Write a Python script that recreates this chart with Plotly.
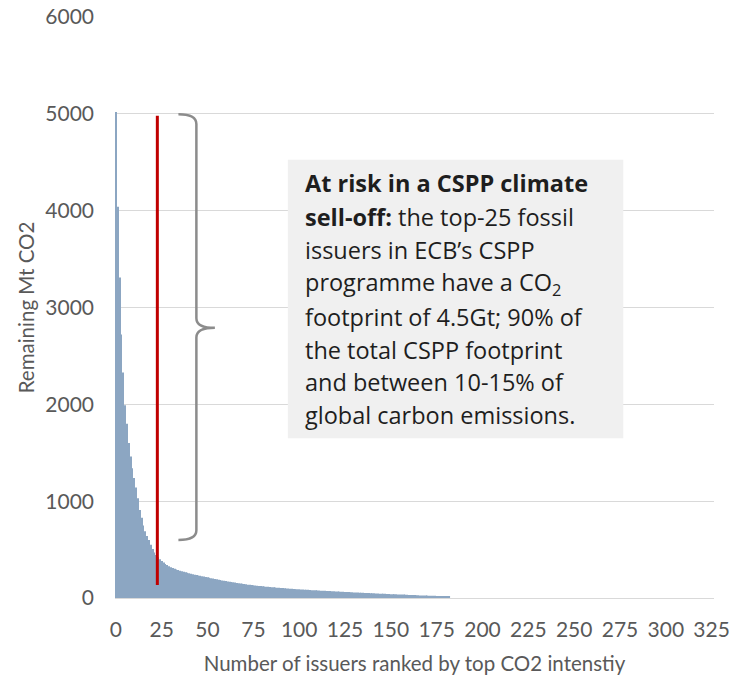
import plotly.graph_objects as go

# ---- data -------------------------------------------------------------
values = [
    5020, 4040, 3310, 2720, 2330, 1990, 1800, 1600, 1460, 1340,
    1240, 1140, 1030, 910, 830, 750, 690, 640, 600, 550,
    505, 470, 445, 420, 400, 382, 366, 352, 340, 328,
    318, 309, 301, 294,
    288, 282, 276, 270, 265, 260, 255, 250, 245, 241,
    237, 233, 229, 225, 221, 217, 213, 209, 205, 201,
    197, 193, 189, 185, 181, 178,
    175, 171, 168, 165, 162, 159, 156, 153, 150, 147,
    144, 141, 138, 136, 134, 131, 129, 127, 125, 123,
    121, 119, 117, 115, 113, 111, 110, 108, 107, 105,
    104, 102, 101, 99, 98, 96, 95, 93, 92, 91,
    90, 88, 87, 86, 85, 84, 82, 81, 80, 79,
    78, 77, 76, 75, 74, 73, 72, 71, 70, 69,
    68, 67, 66, 65, 64, 63, 62, 61, 60, 59,
    58, 57, 56, 55, 54, 53, 52, 52, 51, 50,
    49, 48, 47, 46, 45, 45, 44, 43, 42, 41,
    40, 40, 39, 38, 37, 36, 35, 35, 34, 33,
    32, 31, 30, 30, 29, 28, 27, 27, 26, 25,
    25, 24, 23, 23, 22, 21, 21, 20, 19, 19,
    18, 17, 16,
]
ranks = list(range(len(values)))

x_ticks = [0, 25, 50, 75, 100, 125, 150, 175, 200, 225, 250, 275, 300, 325]
y_ticks = [0, 1000, 2000, 3000, 4000, 5000, 6000]

cutoff_rank = 22.6           # red marker of the top-25 group
cutoff_span = [134, 4980]
brace_x = 43.9
brace_ends = [34.1, 54.0]
brace_y = [4995, 2790, 600]

note_lines = [
    "<b>At risk in a CSPP climate</b>",
    "<b>sell-off:</b> the top-25 fossil",
    "issuers in ECB\u2019s CSPP",
    "programme have a CO<sub>2</sub>",
    "footprint of 4.5Gt; 90% of",
    "the total CSPP footprint",
    "and between 10-15% of",
    "global carbon emissions.",
]
note_y = [4283, 3938, 3594, 3250, 2907, 2566, 2226, 1885]

FONT = "Lato"
NOTE_FONT = "Open Sans"
GREY = "#595959"

fig = go.Figure()
fig.add_trace(go.Bar(
    x=ranks, y=values,
    marker=dict(color="#8CA6C2", line=dict(width=0)),
    hoverinfo="skip",
))
fig.add_trace(go.Scatter(
    x=[cutoff_rank, cutoff_rank], y=cutoff_span, mode="lines",
    line=dict(color="#C00000", width=3), hoverinfo="skip",
))

bx0, bx1 = brace_ends
yt, ym, yb = brace_y
path = (f"M {bx0},{yt} Q {brace_x},{yt} {brace_x},{yt-100} "
        f"L {brace_x},{ym+100} Q {brace_x},{ym} {bx1},{ym} "
        f"Q {brace_x},{ym} {brace_x},{ym-100} "
        f"L {brace_x},{yb+100} Q {brace_x},{yb} {bx0},{yb}")
fig.add_shape(type="path", path=path, xref="x", yref="y",
              line=dict(color="#8C8C8C", width=2.5))

fig.add_shape(type="rect", xref="x", yref="y", x0=93.8, x1=276.8, y0=1650, y1=4525,
              fillcolor="#F0F0F0", line=dict(width=0), layer="above")

for txt, yy in zip(note_lines, note_y):
    fig.add_annotation(x=101.9, y=yy, xref="x", yref="y", text=txt,
                       showarrow=False, xanchor="left", yanchor="middle",
                       align="left", font=dict(family=NOTE_FONT, size=23.5, color="#1E1E1E"))

fig.update_layout(
    width=732, height=678,
    margin=dict(l=115, r=18, t=17, b=80),
    plot_bgcolor="white", paper_bgcolor="white",
    showlegend=False, bargap=0.4,
    font=dict(family=FONT, color=GREY, size=20),
)
fig.update_xaxes(
    range=[-0.5, 326.3], tickvals=x_ticks, ticktext=[str(v) for v in x_ticks],
    automargin=False,
    showgrid=False, zeroline=False, showline=True, linecolor="#D9D9D9", linewidth=1,
    ticks="", tickfont=dict(size=21, color=GREY), ticklabelstandoff=13,
    title=dict(text="Number of issuers ranked by top CO2 intenstiy",
               font=dict(size=20.5, color=GREY), standoff=16),
)
fig.update_yaxes(
    range=[0, 6000], tickvals=y_ticks, ticktext=[str(v) for v in y_ticks],
    automargin=False,
    showgrid=True, gridcolor="#D9D9D9", gridwidth=1, zeroline=False, showline=False,
    ticks="", tickfont=dict(size=21, color=GREY), ticklabelstandoff=20,
    title=dict(text="Remaining Mt CO2", font=dict(size=20.5, color=GREY), standoff=5),
)

fig.write_html("out.html")
